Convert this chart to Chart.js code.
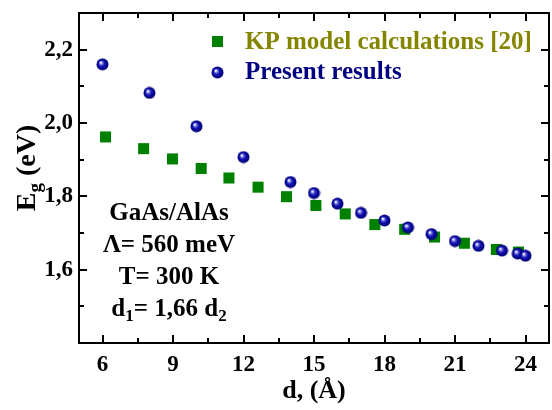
<!DOCTYPE html>
<html>
<head>
<meta charset="utf-8">
<script src="https://cdn.jsdelivr.net/npm/chart.js@4.4.1/dist/chart.umd.min.js"></script>
<style>
  html, body { margin: 0; padding: 0; background: #fff; }
  #wrap { width: 552px; height: 410px; }
</style>
</head>
<body>
<div id="wrap"><canvas id="chart" width="552" height="410"></canvas></div>
<script>
// Data
const kpX = [6.13, 7.75, 8.98, 10.2, 11.38, 12.62, 13.83, 15.08, 16.33, 17.59, 18.86, 20.13, 21.4, 22.76, 23.7];
const kpY = [1.962, 1.930, 1.902, 1.876, 1.850, 1.825, 1.799, 1.775, 1.752, 1.723, 1.710, 1.689, 1.672, 1.655, 1.648];
const presentX = [6, 8, 10, 12, 14, 15, 16, 17, 18, 19, 20, 21, 22, 23, 23.67, 24];
const presentY = [2.160, 2.082, 1.991, 1.907, 1.839, 1.809, 1.780, 1.755, 1.734, 1.715, 1.697, 1.678, 1.665, 1.652, 1.644, 1.638];

const xTicks = [6, 9, 12, 15, 18, 21, 24];
const xMinorTicks = [7.5, 10.5, 13.5, 16.5, 19.5, 22.5];
const yTicks = [1.6, 1.8, 2.0, 2.2];
const yMinorTicks = [1.5, 1.7, 1.9, 2.1];

const legendLabels = ['KP model calculations [20]', 'Present results'];
const noteLines = ['GaAs/AlAs', 'Λ= 560 meV', 'T= 300 K'];

const SERIF = '"Liberation Serif", "Times New Roman", serif';
const GREEN = '#008000';

// shiny blue sphere used as point style
function makeSphere(r) {
    const c = document.createElement('canvas');
    c.width = c.height = r * 2 + 1;
    const g = c.getContext('2d');
    const cx = r + 0.5, cy = r + 0.5;
    const grad = g.createRadialGradient(cx - r * 0.3, cy - r * 0.3, 0.5, cx, cy, r);
    grad.addColorStop(0, '#ffffff');
    grad.addColorStop(0.22, '#7070e0');
    grad.addColorStop(0.5, '#1010b0');
    grad.addColorStop(1, '#000070');
    g.fillStyle = grad;
    g.beginPath();
    g.arc(cx, cy, r, 0, Math.PI * 2);
    g.fill();
    return c;
}
const sphere = makeSphere(6);

const toPoints = (xs, ys) => xs.map((x, i) => ({ x: x, y: ys[i] }));
const fmtComma = v => v.toFixed(1).replace('.', ',');

// frame, inward ticks, legend, annotation and y title
const decorations = {
    id: 'decorations',
    afterDraw(chart) {
        const ctx = chart.ctx;
        const a = chart.chartArea;
        const sx = chart.scales.x, sy = chart.scales.y;
        ctx.save();
        ctx.strokeStyle = '#000';
        ctx.lineWidth = 2;
        ctx.strokeRect(a.left, a.top, a.right - a.left, a.bottom - a.top);

        const tickX = (vals, len) => vals.forEach(v => {
            const px = Math.round(sx.getPixelForValue(v));
            ctx.beginPath();
            ctx.moveTo(px, a.bottom); ctx.lineTo(px, a.bottom - len);
            ctx.moveTo(px, a.top); ctx.lineTo(px, a.top + len);
            ctx.stroke();
        });
        const tickY = (vals, len) => vals.forEach(v => {
            const py = Math.round(sy.getPixelForValue(v));
            ctx.beginPath();
            ctx.moveTo(a.left, py); ctx.lineTo(a.left + len, py);
            ctx.moveTo(a.right, py); ctx.lineTo(a.right - len, py);
            ctx.stroke();
        });
        tickX(xTicks, 8); tickX(xMinorTicks, 5);
        tickY(yTicks, 8); tickY(yMinorTicks, 5);

        // legend
        ctx.font = 'bold 25px ' + SERIF;
        ctx.textBaseline = 'middle';
        ctx.textAlign = 'left';
        ctx.fillStyle = GREEN;
        ctx.fillRect(212, 36, 11, 11);
        ctx.fillStyle = '#858500';
        ctx.fillText(legendLabels[0], 245, 43);
        ctx.drawImage(sphere, 211, 66);
        ctx.fillStyle = '#000080';
        ctx.fillText(legendLabels[1], 245, 73);

        // annotation
        ctx.fillStyle = '#000';
        ctx.textAlign = 'center';
        ctx.font = 'bold 25px ' + SERIF;
        noteLines.forEach((t, i) => ctx.fillText(t, 169, 214 + i * 32));
        // d1= 1,66 d2 with subscripts
        const y4 = 214 + 3 * 32;
        const big = 'bold 25px ' + SERIF, small = 'bold 17px ' + SERIF;
        const parts = [['d', big, 0], ['1', small, 7], ['= 1,66 d', big, 0], ['2', small, 7]];
        let w = 0;
        parts.forEach(p => { ctx.font = p[1]; w += ctx.measureText(p[0]).width; });
        let x = 169 - w / 2;
        ctx.textAlign = 'left';
        parts.forEach(p => {
            ctx.font = p[1];
            ctx.fillText(p[0], x, y4 + p[2]);
            x += ctx.measureText(p[0]).width;
        });

        // y axis title E_g (eV)
        ctx.translate(28, 168);
        ctx.rotate(-Math.PI / 2);
        const tparts = [['E', 'bold 28px ' + SERIF, 0], ['g', 'bold 19px ' + SERIF, 8], [' (eV)', 'bold 28px ' + SERIF, 0]];
        w = 0;
        tparts.forEach(p => { ctx.font = p[1]; w += ctx.measureText(p[0]).width; });
        x = -w / 2;
        tparts.forEach(p => {
            ctx.font = p[1];
            ctx.fillText(p[0], x, p[2]);
            x += ctx.measureText(p[0]).width;
        });
        ctx.restore();
    }
};

new Chart(document.getElementById('chart'), {
    type: 'scatter',
    data: {
        datasets: [
            {
                label: legendLabels[0],
                data: toPoints(kpX, kpY),
                pointStyle: 'rect',
                pointRadius: 7.8,
                pointHoverRadius: 7.8,
                backgroundColor: GREEN,
                borderColor: GREEN,
                borderWidth: 0,
                order: 2
            },
            {
                label: legendLabels[1],
                data: toPoints(presentX, presentY),
                pointStyle: sphere,
                pointRadius: 6,
                backgroundColor: '#000080',
                order: 1
            }
        ]
    },
    options: {
        responsive: false,
        animation: false,
        layout: { autoPadding: false, padding: { top: 13, right: 3, left: 0, bottom: 0 } },
        plugins: {
            legend: { display: false },
            tooltip: { enabled: false }
        },
        scales: {
            x: {
                type: 'linear',
                min: 5,
                max: 25,
                afterBuildTicks: s => { s.ticks = xTicks.map(v => ({ value: v })); },
                afterFit: s => { s.height = 67; s.paddingLeft = 0; s.paddingRight = 0; },
                grid: { display: false, drawTicks: false },
                border: { display: false },
                ticks: {
                    padding: 8,
                    color: '#000',
                    font: { family: SERIF, size: 23, weight: 'bold' },
                    callback: v => String(v)
                },
                title: {
                    display: true,
                    text: 'd, (Å)',
                    color: '#000',
                    font: { family: SERIF, size: 26, weight: 'bold' },
                    padding: { top: 0, bottom: 3 }
                }
            },
            y: {
                type: 'linear',
                min: 1.4,
                max: 2.3,
                afterBuildTicks: s => { s.ticks = yTicks.map(v => ({ value: v })); },
                afterFit: s => { s.width = 79; s.paddingTop = 0; s.paddingBottom = 0; },
                grid: { display: false, drawTicks: false },
                border: { display: false },
                ticks: {
                    padding: 6,
                    color: '#000',
                    font: { family: SERIF, size: 23, weight: 'bold' },
                    callback: v => fmtComma(v)
                }
            }
        }
    },
    plugins: [decorations]
});
</script>
</body>
</html>
